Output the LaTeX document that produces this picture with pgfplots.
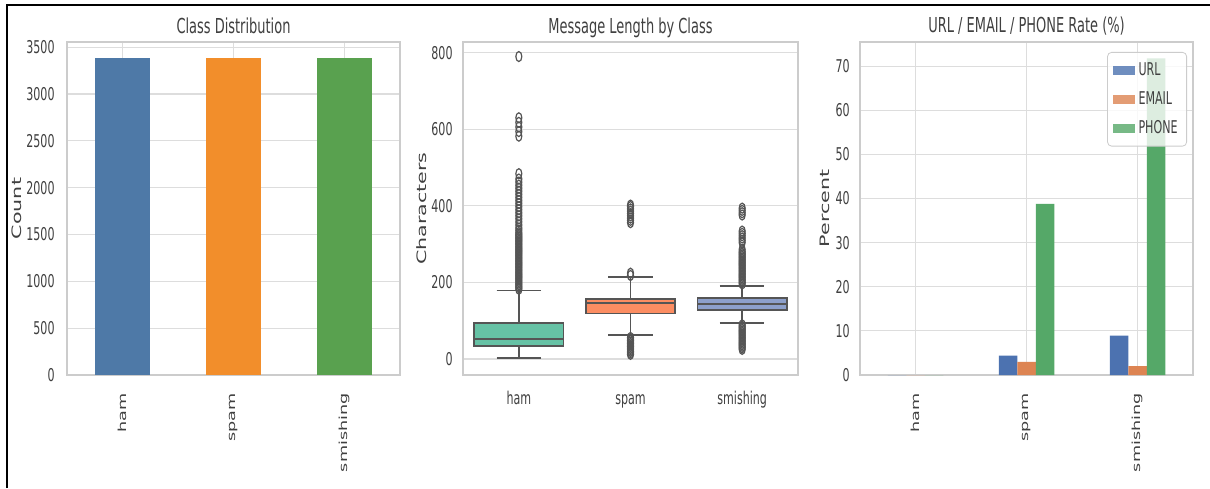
\documentclass[border=0pt]{standalone}
\usepackage{fontspec}
\setmainfont{DejaVu Sans}[FakeStretch=0.63]
\newfontfamily\rotfont{DejaVu Sans}
\usepackage{graphicx}
\usepackage{pgfplots}
\pgfplotsset{compat=1.18}
\usepgfplotslibrary{statistics}
\definecolor{tabblue}{HTML}{4E79A7}
\definecolor{taborange}{HTML}{F28E2B}
\definecolor{tabgreen}{HTML}{59A14F}
\definecolor{sGreen}{HTML}{66C2A5}
\definecolor{sOrange}{HTML}{FC8D62}
\definecolor{sBlue}{HTML}{8DA0CB}
\definecolor{dBlue}{HTML}{4C72B0}
\definecolor{dOrange}{HTML}{DD8452}
\definecolor{dGreen}{HTML}{55A868}
\definecolor{txt}{HTML}{404040}
\definecolor{gridc}{HTML}{DDDDDD}
\definecolor{spine}{HTML}{CCCCCC}
\definecolor{boxline}{HTML}{555555}
\newcommand\rotlab[1]{\scalebox{1}[0.63]{\rotfont #1}}
\pgfplotsset{
  every axis title/.style={at={(0.5,1)}, anchor=base, yshift=4.5pt,
    text=txt, font=\fontsize{10.3}{12}\selectfont},
  sea/.style={
    scale only axis, width=166.5pt, height=166.5pt,
    anchor=south west,
    axis line style={draw=spine, line width=0.6pt},
    grid style={draw=gridc, line width=0.6pt},
    tick style={draw=none},
    major tick length=0pt,
    ticklabel style={text=txt, font=\fontsize{8.8}{10}\selectfont},
    /pgf/number format/assume math mode=true,
    /pgf/number format/1000 sep={},
    yticklabel style={inner sep=0pt},
    xmin=-0.5, xmax=2.5, xtick={0,1,2},
    scaled y ticks=false,
    ylabel style={text=txt, font=\fontsize{10.3}{12}\selectfont},
  }
}
\begin{document}
\begin{tikzpicture}
\useasboundingbox (0,0) rectangle (605pt,244pt);
\fill[white] (0,0) rectangle (605pt,244pt);
\draw[line width=1pt, black] (3.5pt,0) -- (3.5pt,241.4pt) -- (605pt,241.4pt);

% Panel 1
\begin{axis}[sea, at={(33.5pt,56.5pt)}, ymin=0, ymax=3555, ytick={0,500,...,3500},
  grid=major,
  xticklabels={\rotlab{ham},\rotlab{spam},\rotlab{smishing}},
  xticklabel style={rotate=90, anchor=east, inner sep=0pt, text=txt},
  xticklabel shift=9pt, yticklabel shift=6pt,
  title={Class Distribution},
  ylabel={\rotlab{Count}},
  ylabel style={at={(axis description cs:-0.15,0.5)}, anchor=center},
  ybar, bar width=27.75pt]
\addplot[fill=tabblue, draw=none, bar shift=0pt] coordinates {(0,3385)};
\addplot[fill=taborange, draw=none, bar shift=0pt] coordinates {(1,3385)};
\addplot[fill=tabgreen, draw=none, bar shift=0pt] coordinates {(2,3385)};
\end{axis}

% Panel 2
\begin{axis}[sea, at={(231.5pt,56.5pt)}, width=167.5pt, ymin=-42, ymax=828,
  ytick={0,200,...,800}, ymajorgrids,
  xticklabels={ham,spam,smishing},
  xticklabel style={anchor=north, inner sep=0pt, text height=6.5pt, text depth=1.8pt},
  xticklabel shift=8pt, yticklabel shift=5pt,
  title={Message Length by Class},
  ylabel={\rotlab{Characters}},
  ylabel style={at={(axis description cs:-0.122,0.5)}, anchor=center},
  boxplot/draw direction=y, boxplot/box extend=0.8, boxplot/whisker extend=0.4]
\addplot[fill=sGreen, draw=boxline, line width=0.7pt, mark=o, mark size=2.5pt,
  mark options={xscale=0.6, draw=boxline, line width=0.6pt},
  boxplot prepared={draw position=0, median=52, lower quartile=34, upper quartile=94, lower whisker=2, upper whisker=178}]
  table[row sep=\\, y index=0] {y\\ 182\\ 186\\ 190\\ 194\\ 198\\ 202\\ 206\\ 210\\ 214\\ 218\\ 222\\ 226\\ 230\\ 234\\ 238\\ 242\\ 246\\ 250\\ 254\\ 258\\ 262\\ 266\\ 270\\ 274\\ 278\\ 282\\ 286\\ 290\\ 294\\ 298\\ 302\\ 306\\ 310\\ 314\\ 318\\ 322\\ 326\\ 330\\ 336\\ 342\\ 350\\ 358\\ 366\\ 374\\ 382\\ 390\\ 398\\ 406\\ 414\\ 422\\ 430\\ 438\\ 446\\ 454\\ 462\\ 470\\ 484\\ 582\\ 594\\ 606\\ 618\\ 630\\ 790\\};
\addplot[fill=sOrange, draw=boxline, line width=0.7pt, mark=o, mark size=2.5pt,
  mark options={xscale=0.6, draw=boxline, line width=0.6pt},
  boxplot prepared={draw position=1, median=146, lower quartile=118, upper quartile=157, lower whisker=63, upper whisker=214}]
  table[row sep=\\, y index=0] {y\\ 12\\ 16\\ 20\\ 24\\ 28\\ 32\\ 36\\ 40\\ 44\\ 48\\ 52\\ 56\\ 218\\ 224\\ 356\\ 362\\ 368\\ 374\\ 380\\ 386\\ 392\\ 398\\ 402\\};
\addplot[fill=sBlue, draw=boxline, line width=0.7pt, mark=o, mark size=2.5pt,
  mark options={xscale=0.6, draw=boxline, line width=0.6pt},
  boxplot prepared={draw position=2, median=144, lower quartile=128, upper quartile=159, lower whisker=94, upper whisker=191}]
  table[row sep=\\, y index=0] {y\\ 25\\ 29\\ 33\\ 37\\ 41\\ 45\\ 49\\ 53\\ 57\\ 61\\ 65\\ 69\\ 73\\ 77\\ 81\\ 85\\ 89\\ 196\\ 200\\ 204\\ 208\\ 212\\ 216\\ 220\\ 224\\ 228\\ 232\\ 236\\ 240\\ 244\\ 248\\ 252\\ 256\\ 260\\ 264\\ 268\\ 272\\ 276\\ 280\\ 286\\ 304\\ 310\\ 316\\ 322\\ 328\\ 334\\ 376\\ 382\\ 388\\ 394\\};
\end{axis}

% Panel 3
\begin{axis}[sea, at={(430pt,56.5pt)}, ymin=0, ymax=75.5, ytick={0,10,...,70},
  grid=major,
  xticklabels={\rotlab{ham},\rotlab{spam},\rotlab{smishing}},
  xticklabel style={rotate=90, anchor=east, inner sep=0pt, text=txt},
  xticklabel shift=9pt, yticklabel shift=5pt,
  title={URL / EMAIL / PHONE Rate (\%)},
  ylabel={\rotlab{Percent}},
  ylabel style={at={(axis description cs:-0.105,0.5)}, anchor=center},
  ybar=0pt, bar width=9.25pt,
  legend style={at={(1,1)}, anchor=north east, xshift=-3pt, yshift=-5pt,
    draw=spine, fill=white, fill opacity=0.8, text opacity=1, rounded corners=2pt,
    font=\fontsize{8.8}{10}\selectfont, text=txt, row sep=2.5pt,
    inner xsep=2.5pt, inner ysep=3pt},
  legend cell align=left,
  legend image code/.code={\fill[#1, sharp corners] (0pt,-2.25pt) rectangle (11pt,2.25pt);}]
\addplot[fill=dBlue, draw=none] coordinates {(0,0) (1,4.4) (2,8.9)};
\addplot[fill=dOrange, draw=none] coordinates {(0,0) (1,3.0) (2,2.0)};
\addplot[fill=dGreen, draw=none] coordinates {(0,0) (1,38.8) (2,71.8)};
\legend{URL,EMAIL,PHONE}
\end{axis}
\end{tikzpicture}
\end{document}
